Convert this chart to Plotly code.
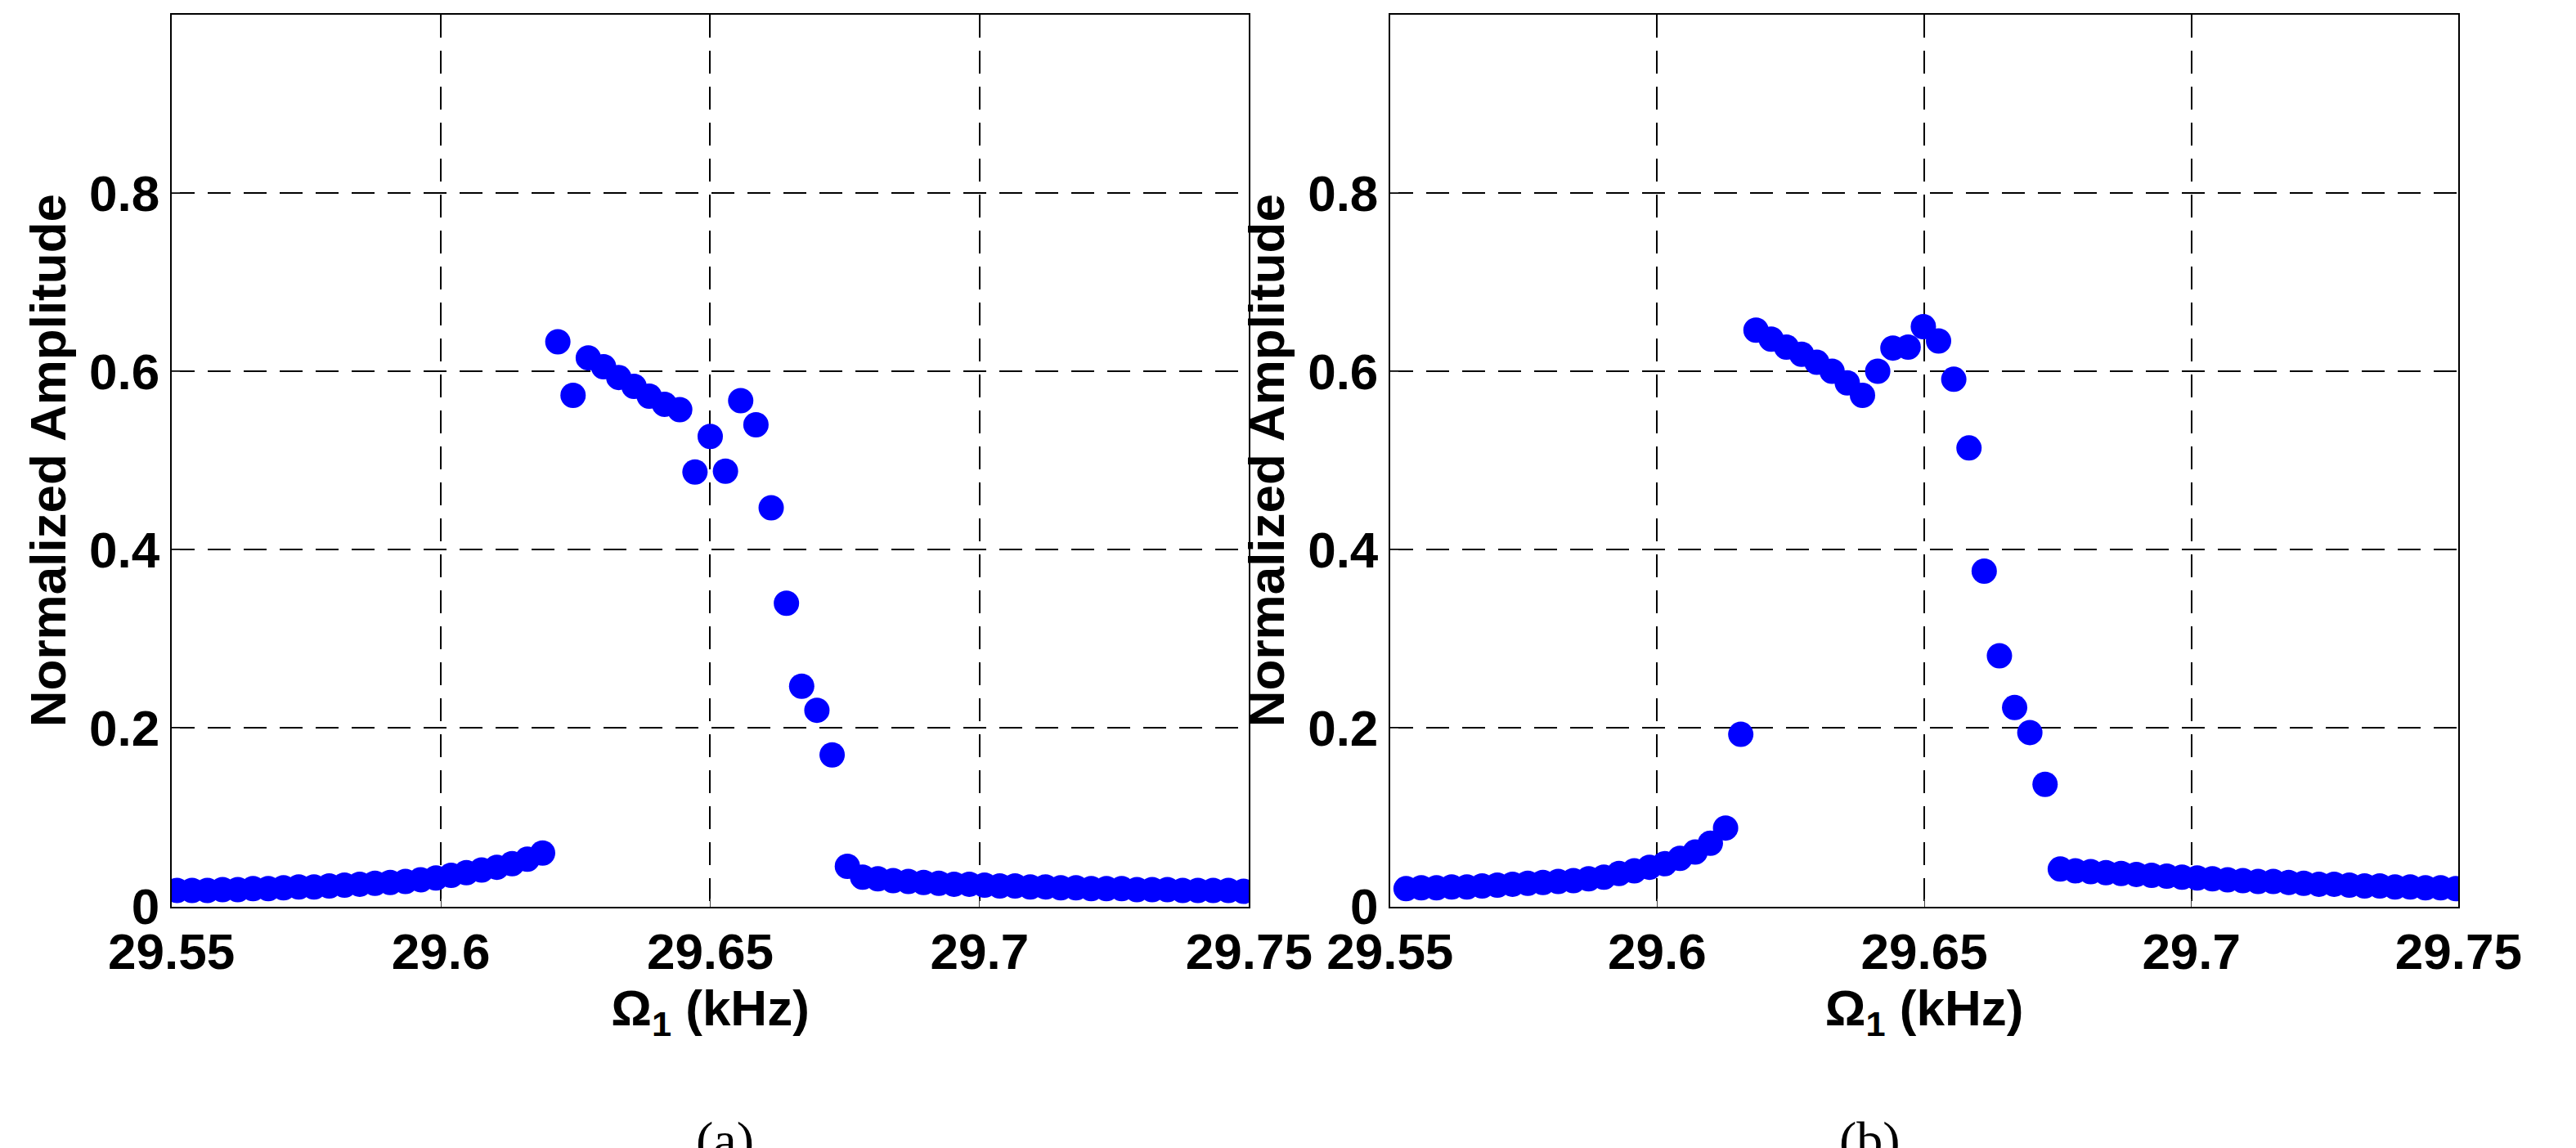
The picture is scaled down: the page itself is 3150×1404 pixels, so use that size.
import numpy as np
import plotly.graph_objects as go

x_a = np.linspace(29.551, 29.749, 71)
y_a = [0.018,0.018,0.018,0.019,0.019,0.02,0.02,0.021,0.022,0.022,0.023,0.024,0.025,0.026,0.027,0.028,0.03,0.032,0.035,0.038,0.041,0.044,0.048,0.053,0.06,
       0.633,0.573,0.615,0.605,0.593,0.583,0.572,0.563,0.557,0.487,0.527,0.488,0.567,0.54,0.447,0.34,0.247,0.22,0.17,0.045,
       0.033,0.031,0.029,0.028,0.027,0.026,0.025,0.025,0.024,0.023,0.023,0.022,0.022,0.021,0.021,0.02,0.02,0.02,0.019,0.019,0.019,0.018,0.018,0.018,0.018,0.017]

x_b = np.linspace(29.553, 29.7495, 70)
y_b = [0.020,0.021,0.021,0.022,0.022,0.023,0.024,0.025,0.026,0.027,0.028,0.029,0.031,0.033,0.037,0.040,0.044,0.048,0.054,0.061,0.071,0.088,
       0.193,0.646,0.636,0.627,0.619,0.610,0.600,0.587,0.573,0.600,0.626,0.627,0.650,0.634,0.591,0.514,0.376,0.281,0.223,0.195,0.137,0.042,
       0.040,0.039,0.038,0.037,0.036,0.035,0.034,0.033,0.032,0.031,0.030,0.029,0.028,0.028,0.027,0.026,0.025,0.025,0.024,0.023,0.023,0.022,0.022,0.021,0.021,0.020]

x_ticks = [29.55, 29.6, 29.65, 29.7, 29.75]
x_ticklabels = ["29.55", "29.6", "29.65", "29.7", "29.75"]
y_ticks = [0, 0.2, 0.4, 0.6, 0.8, 1]
y_ticklabels = ["0", "0.2", "0.4", "0.6", "0.8", "1"]
panel_labels = ["(a)", "(b)"]

fig = go.Figure()
fig.add_trace(go.Scatter(x=x_a, y=y_a, mode="markers", marker=dict(color="#0000ff", size=31), xaxis="x", yaxis="y", showlegend=False))
fig.add_trace(go.Scatter(x=x_b, y=y_b, mode="markers", marker=dict(color="#0000ff", size=31), xaxis="x2", yaxis="y2", showlegend=False))

tfont = dict(family="Liberation Sans", size=62, color="black", weight="bold")
ydom = [0.196, 0.993]
def xa(dom, anchor):
    return dict(domain=dom, anchor=anchor, range=[29.55, 29.75], tickvals=x_ticks, ticktext=x_ticklabels,
                showline=True, mirror=True, linecolor="black", linewidth=2, ticks="inside", ticklen=10,
                showgrid=True, gridcolor="black", griddash="28px,16px", gridwidth=1.5, zeroline=False,
                tickfont=tfont,
                title=dict(text="Ω<sub>1</sub> (kHz)", font=tfont, standoff=0))
def ya(anchor):
    return dict(domain=ydom, anchor=anchor, range=[0, 1], tickvals=y_ticks, ticktext=y_ticklabels,
                showline=True, mirror=True, linecolor="black", linewidth=2, ticks="inside", ticklen=10,
                showgrid=True, gridcolor="black", griddash="28px,16px", gridwidth=1.5, zeroline=False,
                tickfont=tfont,
                title=dict(text="Normalized Amplitude", font=tfont, standoff=8))

fig.update_layout(
    width=3150, height=1404, margin=dict(l=0, r=0, t=0, b=0),
    paper_bgcolor="white", plot_bgcolor="white",
    xaxis=xa([0.0413, 0.4814], "y"), yaxis=ya("x"),
    xaxis2=xa([0.539, 0.9754], "y2"), yaxis2=ya("x2"),
    font=dict(family="Liberation Sans", color="black"),
)
for lbl, cx in zip(panel_labels, [0.255, 0.748]):
    fig.add_annotation(text=lbl, x=cx, y=-0.04, xref="paper", yref="paper", showarrow=False,
                       yanchor="bottom", font=dict(family="Liberation Serif", size=64, color="black"))
fig.write_html("out.html")
